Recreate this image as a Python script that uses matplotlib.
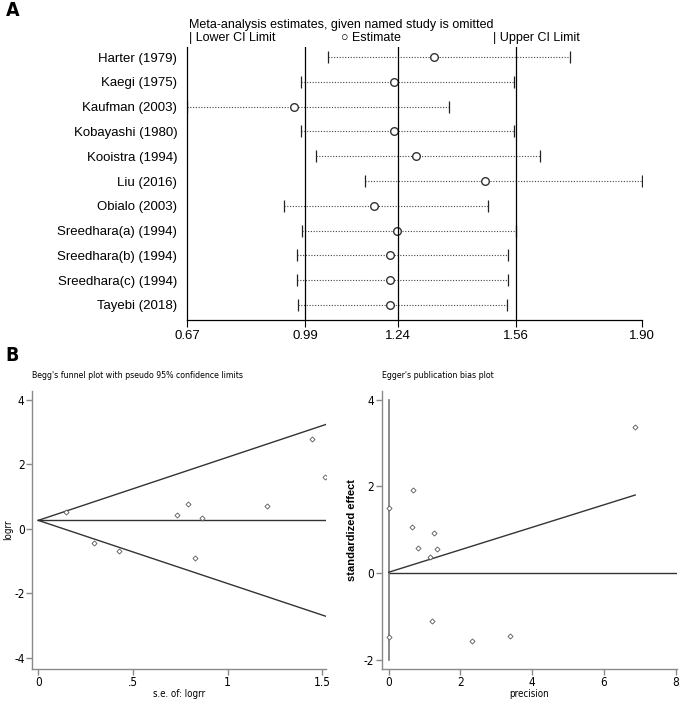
import matplotlib
matplotlib.use("Agg")
import matplotlib.pyplot as plt

plt.rcParams["axes.unicode_minus"] = False

# panel A: influence analysis
studies = ["Harter (1979)", "Kaegi (1975)", "Kaufman (2003)", "Kobayashi (1980)",
           "Kooistra (1994)", "Liu (2016)", "Obialo (2003)", "Sreedhara(a) (1994)",
           "Sreedhara(b) (1994)", "Sreedhara(c) (1994)", "Tayebi (2018)"]
lower = [1.052, 0.978, 0.670, 0.978, 1.019, 1.152, 0.932, 0.982, 0.967, 0.967, 0.969]
estimate = [1.337, 1.231, 0.958, 1.231, 1.289, 1.477, 1.175, 1.237, 1.220, 1.220, 1.220]
upper = [1.706, 1.553, 1.378, 1.555, 1.625, 1.900, 1.483, 1.560, 1.539, 1.539, 1.536]
a_ticks = [0.67, 0.99, 1.24, 1.56, 1.90]
overall = [0.99, 1.24, 1.56]

# panel B left: Begg's funnel
begg_se = [0.146, 0.297, 0.427, 0.735, 0.789, 0.828, 0.866, 1.206, 1.446, 1.515]
begg_logrr = [0.51, -0.43, -0.68, 0.43, 0.76, -0.92, 0.34, 0.72, 2.78, 1.62]
begg_theta = 0.26
begg_se_max = 1.52

# panel B right: Egger's plot
egger_prec = [0.0, 0.68, 0.65, 1.26, 0.82, 1.34, 1.14, 1.20, 0.0, 2.33, 3.37, 6.87]
egger_std = [1.51, 1.92, 1.07, 0.93, 0.57, 0.56, 0.38, -1.10, -1.47, -1.57, -1.44, 3.36]
egger_b0 = 0.02
egger_b1 = 0.259
egger_ci = [-2.0, 4.0]

narrow = ["Liberation Sans Narrow", "DejaVu Sans"]
arial = ["Liberation Sans", "DejaVu Sans"]
NS = dict(family=narrow, fontstretch="condensed")

fig = plt.figure(figsize=(6.85, 7.03), dpi=100)

# ---------------- panel A ----------------
axA = fig.add_axes([0.273, 0.545, 0.664, 0.388])
n = len(studies)
ypos = [n - 1 - i for i in range(n)]
for y, lo, est, hi in zip(ypos, lower, estimate, upper):
    axA.plot([lo, hi], [y, y], color="#444444", lw=0.8, linestyle=(0, (1, 1.5)))
    axA.plot([lo, hi], [y, y], linestyle="none", marker="|", markersize=9,
             color="#222222", mew=0.9)
    axA.plot(est, y, marker="o", markersize=5.5, mfc="white", mec="#333333", mew=1.0)
for v in overall:
    axA.axvline(v, color="black", lw=0.9)
axA.set_xlim(0.67, 1.90)
axA.set_ylim(-0.6, n - 0.6)
axA.set_yticks(ypos)
axA.set_yticklabels(studies, family=arial, fontsize=9.5)
axA.tick_params(axis="y", length=0, pad=7)
axA.set_xticks(a_ticks)
axA.set_xticklabels(["%.2f" % t for t in a_ticks], family=arial, fontsize=9.5)
axA.tick_params(axis="x", length=5, width=0.8, pad=2)
for s in ["top", "right"]:
    axA.spines[s].set_visible(False)
axA.spines["left"].set_linewidth(0.9)
axA.spines["bottom"].set_linewidth(0.9)

axA.text(0.005, 1.08, "Meta-analysis estimates, given named study is omitted",
         transform=axA.transAxes, family=arial, fontsize=9, va="center")
axA.text(0.005, 1.035, "| Lower CI Limit", transform=axA.transAxes,
         family=arial, fontsize=9, va="center")
axA.text(0.338, 1.035, "\u25cb Estimate", transform=axA.transAxes,
         family=arial, fontsize=9, va="center")
axA.text(0.672, 1.035, "| Upper CI Limit", transform=axA.transAxes,
         family=arial, fontsize=9, va="center")

fig.text(0.008, 0.985, "A", fontsize=14, fontweight="bold", va="center", **NS)
fig.text(0.008, 0.495, "B", fontsize=14, fontweight="bold", va="center", **NS)

gray = "#8a8a8a"
line_c = "#333333"


def style_b(ax):
    for s in ["top", "right"]:
        ax.spines[s].set_visible(False)
    for s in ["left", "bottom"]:
        ax.spines[s].set_color(gray)
        ax.spines[s].set_linewidth(1.0)
    ax.tick_params(colors=gray, labelcolor="black", length=4, width=1.0,
                   labelsize=8.5, pad=1.5)
    for lab in ax.get_xticklabels() + ax.get_yticklabels():
        lab.set_family(narrow)
        lab.set_fontstretch("condensed")


# ---------------- panel B left ----------------
axB1 = fig.add_axes([0.047, 0.049, 0.429, 0.395])
axB1.plot([0, begg_se_max], [begg_theta, begg_theta], color=line_c, lw=1)
axB1.plot([0, begg_se_max], [begg_theta, begg_theta + 1.96 * begg_se_max], color=line_c, lw=1)
axB1.plot([0, begg_se_max], [begg_theta, begg_theta - 1.96 * begg_se_max], color=line_c, lw=1)
axB1.plot(begg_se, begg_logrr, linestyle="none", marker="D", markersize=2.6,
          mfc="white", mec="#555555", mew=0.6)
axB1.set_xlim(-0.032, 1.52)
axB1.set_ylim(-4.34, 4.28)
axB1.set_xticks([0, 0.5, 1, 1.5])
axB1.set_xticklabels(["0", ".5", "1", "1.5"])
axB1.set_yticks([-4, -2, 0, 2, 4])
style_b(axB1)
axB1.set_xlabel("s.e. of: logrr", fontsize=7, labelpad=0, **NS)
axB1.set_ylabel("logrr", fontsize=7, labelpad=1, **NS)
axB1.text(0.0, 1.055, "Begg's funnel plot with pseudo 95% confidence limits",
          transform=axB1.transAxes, fontsize=6.3, va="center", **NS)

# ---------------- panel B right ----------------
axB2 = fig.add_axes([0.557, 0.049, 0.431, 0.395])
axB2.plot([0, 8], [0, 0], color=line_c, lw=1)
axB2.plot([0, 0], egger_ci, color="#777777", lw=1.2)
px = [0, max(egger_prec)]
axB2.plot(px, [egger_b0 + egger_b1 * p for p in px], color=line_c, lw=1)
axB2.plot(egger_prec, egger_std, linestyle="none", marker="D", markersize=2.6,
          mfc="white", mec="#555555", mew=0.6)
axB2.set_xlim(-0.2, 8.03)
axB2.set_ylim(-2.2, 4.2)
axB2.set_xticks([0, 2, 4, 6, 8])
axB2.set_yticks([-2, 0, 2, 4])
style_b(axB2)
axB2.set_xlabel("precision", fontsize=7, labelpad=0, **NS)
axB2.set_ylabel("standardized effect", family=arial, fontsize=8,
                fontweight="bold", labelpad=5)
axB2.text(0.0, 1.055, "Egger's publication bias plot",
          transform=axB2.transAxes, fontsize=6.3, va="center", **NS)

fig.savefig("out.png", dpi=100)
